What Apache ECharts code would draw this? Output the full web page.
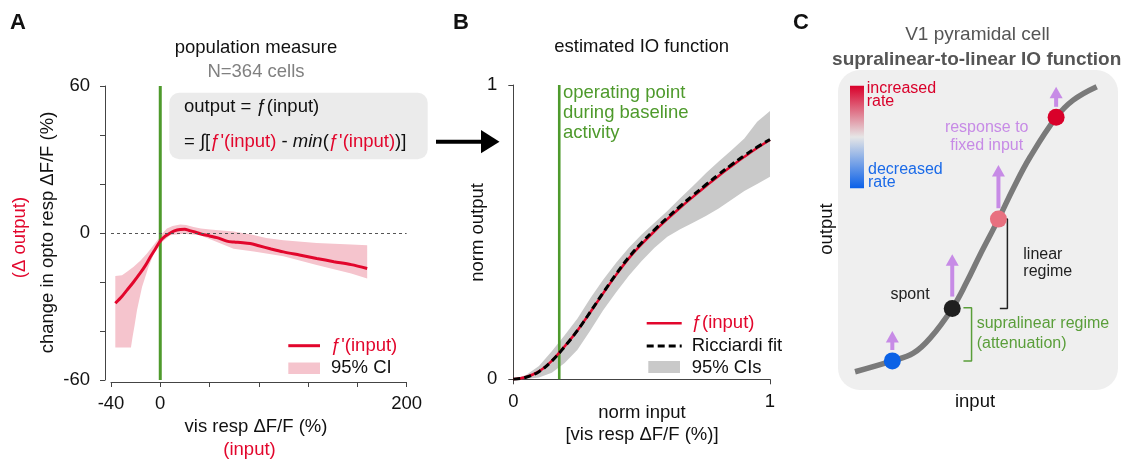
<!DOCTYPE html>
<html>
<head>
<meta charset="utf-8">
<script src="https://cdn.jsdelivr.net/npm/echarts@6/dist/echarts.min.js"></script>
<style>
html,body{margin:0;padding:0;background:#fff;}
#c{width:1122px;height:460px;}
</style>
</head>
<body>
<div id="c"></div>
<script>
// ---------- Panel A data ----------
const aTickLabelsX = [-40, 0, 200];
const aTickLabelsY = [-60, 0, 60];
const aLine = [[-36.5,-28.7],[-31,-25.8],[-27,-23.3],[-22,-20.2],[-16.2,-16.3],[-12,-13.2],[-8.1,-9.8],[-4,-6.5],[0,-3.3],[4,-1.3],[8.1,0],[12,1.0],[16.2,1.4],[20,1.5],[23,1.1],[28,0.4],[32.4,-0.3],[40,-1.2],[46,-1.9],[54,-3.3],[60,-3.7],[65,-3.9],[73,-4.3],[80,-5.2],[90,-6.5],[100,-7.7],[113,-9.0],[127,-10.4],[141,-11.7],[155,-12.9],[168,-14.5]];
const aUpper = [[-36.5,-17.6],[-31,-17.2],[-27,-15.8],[-21.6,-13.8],[-16,-11.2],[-10.8,-8.4],[-6,-5.3],[-1.4,-2.3],[2,0],[5.4,1.8],[10,2.9],[16.2,3.5],[21,3.3],[27,2.4],[33,1.8],[40.5,1.4],[50,1.0],[59.5,0.6],[73,-0.5],[86,-2.0],[100,-3.0],[127,-4.1],[155,-4.7],[168,-5.0]];
const aLower = [[-36.5,-46.7],[-23.8,-46.7],[-22.5,-42.4],[-20.8,-37.6],[-18.9,-31.5],[-14.8,-22],[-9.5,-13.8],[-4.1,-7],[1.4,-3.7],[8.1,-0.9],[18.9,-0.3],[32.4,-0.9],[46,-3.7],[59.5,-6.4],[76,-7.6],[100,-9.5],[127,-13.1],[155,-16.5],[168,-18.6]];
const aOperating = [[0,-60],[0,60]];

// ---------- Panel B data ----------
const bX   = [0,0.05,0.1,0.15,0.2,0.25,0.3,0.35,0.4,0.45,0.5,0.55,0.6,0.65,0.7,0.75,0.8,0.85,0.9,0.95,1.0];
const bF   = [0,0.008,0.027,0.063,0.112,0.166,0.228,0.292,0.354,0.411,0.459,0.503,0.544,0.583,0.620,0.656,0.691,0.724,0.756,0.786,0.813];
const bFit = [0,0.007,0.026,0.062,0.111,0.166,0.229,0.294,0.357,0.415,0.464,0.508,0.549,0.588,0.625,0.661,0.696,0.729,0.760,0.789,0.815];
const bUp  = [0,0.015,0.045,0.095,0.150,0.207,0.275,0.338,0.395,0.447,0.492,0.532,0.572,0.615,0.657,0.700,0.740,0.778,0.818,0.875,0.912];
const bLo  = [0,0.001,0.006,0.022,0.055,0.100,0.166,0.235,0.295,0.352,0.402,0.447,0.484,0.510,0.532,0.555,0.580,0.610,0.640,0.664,0.688];
const bOperating = 0.179;

// ---------- Panel C (schematic) data ----------
const cCurve = [[0.061,0.057],[0.194,0.091],[0.269,0.115],[0.329,0.162],[0.408,0.255],[0.460,0.338],[0.507,0.422],[0.573,0.534],[0.626,0.630],[0.686,0.728],[0.779,0.852],[0.840,0.906],[0.924,0.948]];
const cDots = [[0.194,0.091],[0.408,0.255],[0.573,0.534],[0.779,0.852]];
const cArrows = [[0.194,0.125,0.184],[0.408,0.292,0.424],[0.573,0.568,0.703],[0.779,0.885,0.948]];
const cBracketLinear = [[0.578,0.534],[0.605,0.534],[0.605,0.255],[0.578,0.255]];
const cBracketSupra = [[0.448,0.257],[0.477,0.257],[0.477,0.091],[0.448,0.091]];

// ---------- styles ----------
const FF = "'Liberation Sans', Arial, Helvetica, sans-serif";
const RED = '#e2062c', PINK = '#f5c4cd', GREEN = '#4e9a2c', GRAY_BAND = '#c9c9c9', AX = '#444', PURPLE = '#c78be6';
const dotColors = ['#0b62e6', '#1f1f1f', '#e8707f', '#d9002a'];

function txt(x, y, text, st, rot) {
  const s = Object.assign({text: text, fontSize: 18.5, fontFamily: FF, fill: '#111',
    textAlign: 'left', textVerticalAlign: 'middle'}, st || {});
  s.align = s.textAlign; s.verticalAlign = s.textVerticalAlign;
  return {type: 'text', x: x, y: y, rotation: rot || 0, silent: true, z: 50, style: s};
}
function ctr(o){ return Object.assign({textAlign:'center'}, o||{}); }

function bandSeries(idx, upper, lower, color, z) {
  return {
    type: 'custom', xAxisIndex: idx, yAxisIndex: idx, silent: true, z: z,
    data: [upper[0]],
    renderItem: function (params, api) {
      if (params.dataIndex !== 0) return null;
      const pts = upper.map(p => api.coord(p)).concat(lower.slice().reverse().map(p => api.coord(p)));
      return {type: 'polygon', shape: {points: pts}, style: {fill: color}};
    }
  };
}

const chart = echarts.init(document.getElementById('c'), null, {renderer: 'canvas'});

const axisCommon = {
  type: 'value',
  splitLine: {show: false},
  axisLine: {show: true, onZero: false, lineStyle: {color: AX, width: 1}},
  axisTick: {show: true, length: 5, lineStyle: {color: AX, width: 1}},
};
const RI = {fontSize: 18.5, fontFamily: FF};

const option = {
  animation: false,
  backgroundColor: '#fff',
  textStyle: {fontFamily: FF},
  grid: [
    {left: 111, top: 86, width: 295.6, height: 294},
    {left: 513.3, top: 85, width: 256.7, height: 294.3},
    {left: 838, top: 70, width: 280, height: 320}
  ],
  xAxis: [
    Object.assign({}, axisCommon, {gridIndex: 0, min: -40, max: 200, interval: 40, offset: 2,
      axisLabel: {margin: 12, fontSize: 18.5, color: '#111', fontFamily: FF, hideOverlap: false,
        formatter: v => aTickLabelsX.indexOf(v) >= 0 ? String(v) : ''}}),
    Object.assign({}, axisCommon, {gridIndex: 1, min: 0, max: 1, interval: 1,
      axisLabel: {margin: 13, fontSize: 18.5, color: '#111', fontFamily: FF}}),
    {gridIndex: 2, type: 'value', min: 0, max: 1, show: false}
  ],
  yAxis: [
    Object.assign({}, axisCommon, {gridIndex: 0, min: -60, max: 60, interval: 20, offset: 6,
      axisLabel: {margin: 15, fontSize: 18.5, color: '#111', fontFamily: FF, hideOverlap: false,
        formatter: v => aTickLabelsY.indexOf(v) >= 0 ? String(v) : ''}}),
    Object.assign({}, axisCommon, {gridIndex: 1, min: 0, max: 1, interval: 1,
      axisLabel: {margin: 16, fontSize: 18.5, color: '#111', fontFamily: FF}}),
    {gridIndex: 2, type: 'value', min: 0, max: 1, show: false}
  ],
  series: [
    // ----- A -----
    {type: 'line', xAxisIndex: 0, yAxisIndex: 0, data: [], silent: true, z: 1,
      markLine: {silent: true, symbol: ['none','none'], label: {show: false},
        lineStyle: {color: '#555', width: 1, type: [3, 3]}, data: [{yAxis: 0}]}},
    bandSeries(0, aUpper, aLower, PINK, 2),
    {type: 'line', xAxisIndex: 0, yAxisIndex: 0, data: aOperating, showSymbol: false, silent: true, z: 3,
      lineStyle: {color: GREEN, width: 3}},
    {type: 'line', xAxisIndex: 0, yAxisIndex: 0, data: aLine, showSymbol: false, silent: true, z: 4, smooth: 0.3,
      lineStyle: {color: RED, width: 3}},
    // ----- B -----
    bandSeries(1, bX.map((x,i)=>[x,bUp[i]]), bX.map((x,i)=>[x,bLo[i]]), GRAY_BAND, 2),
    {type: 'line', xAxisIndex: 1, yAxisIndex: 1, data: [[bOperating,0],[bOperating,1]], showSymbol: false, silent: true, z: 3,
      lineStyle: {color: GREEN, width: 2.6}},
    {type: 'line', xAxisIndex: 1, yAxisIndex: 1, data: bX.map((x,i)=>[x,bF[i]]), showSymbol: false, silent: true, z: 4, smooth: 0.4,
      lineStyle: {color: RED, width: 2.5}},
    {type: 'line', xAxisIndex: 1, yAxisIndex: 1, data: bX.map((x,i)=>[x,bFit[i]]), showSymbol: false, silent: true, z: 5, smooth: 0.4,
      lineStyle: {color: '#000', width: 3, type: [7, 4]}},
    // ----- C -----
    {type: 'line', xAxisIndex: 2, yAxisIndex: 2, data: cCurve, showSymbol: false, silent: true, z: 3, smooth: 0.4,
      lineStyle: {color: '#7a7a7a', width: 5.5}},
    {type: 'line', xAxisIndex: 2, yAxisIndex: 2, data: cBracketLinear, showSymbol: false, silent: true, z: 3,
      lineStyle: {color: '#222', width: 1.5}},
    {type: 'line', xAxisIndex: 2, yAxisIndex: 2, data: cBracketSupra, showSymbol: false, silent: true, z: 3,
      lineStyle: {color: '#5a9e3a', width: 1.5}},
    {type: 'custom', xAxisIndex: 2, yAxisIndex: 2, silent: true, z: 4, data: cArrows, encode: {x: 0, y: [1, 2]},
      renderItem: function (params, api) {
        const x = api.value(0), y0 = api.value(1), y1 = api.value(2);
        const p0 = api.coord([x, y0]), p1 = api.coord([x, y1]);
        const h = 11.5, w = 13;
        return {type: 'group', children: [
          {type: 'line', shape: {x1: p0[0], y1: p0[1], x2: p1[0], y2: p1[1] + h - 1}, style: {stroke: PURPLE, lineWidth: 4}},
          {type: 'polygon', shape: {points: [[p1[0]-w/2, p1[1]+h], [p1[0], p1[1]], [p1[0]+w/2, p1[1]+h]]}, style: {fill: PURPLE}}
        ]};
      }},
    {type: 'scatter', xAxisIndex: 2, yAxisIndex: 2, data: cDots, symbolSize: 17, silent: true, z: 5,
      itemStyle: {color: p => dotColors[p.dataIndex], opacity: 1}}
  ],
  graphic: [
    // panel letters
    txt(10, 23, 'A', {fontSize: 22, fontWeight: 'bold'}),
    txt(453, 23, 'B', {fontSize: 22, fontWeight: 'bold'}),
    txt(793, 23, 'C', {fontSize: 22, fontWeight: 'bold'}),
    // A titles
    txt(256, 48.3, 'population measure', ctr()),
    txt(256, 71.7, 'N=364 cells', ctr({fill: '#808080'})),
    {type: 'rect', shape: {x: 169.3, y: 92.7, width: 258.4, height: 66.6, r: 10}, style: {fill: '#ebebeb'}, z: 40, silent: true},
    txt(184, 106.7, '{k|output = ƒ(input)}', {rich: {k: Object.assign({fill: '#111'}, RI)}}),
    txt(184, 142.3, '{k|= ∫[}{r|ƒ\'(input)}{k| - }{i|min}{k|(}{r|ƒ\'(input)}{k|)]}',
      {rich: {k: Object.assign({fill: '#111'}, RI), r: Object.assign({fill: RED}, RI),
              i: Object.assign({fill: '#111', fontStyle: 'italic'}, RI)}}),
    // A axis names
    txt(48.3, 232.5, 'change in opto resp ΔF/F (%)', ctr(), Math.PI / 2),
    txt(20, 237.5, '(Δ output)', ctr({fill: RED}), Math.PI / 2),
    txt(256, 426.7, 'vis resp ΔF/F (%)', ctr()),
    txt(249.5, 449.5, '(input)', ctr({fill: RED})),
    // A legend
    {type: 'line', shape: {x1: 288.3, y1: 345.7, x2: 320, y2: 345.7}, style: {stroke: RED, lineWidth: 3}, z: 50, silent: true},
    txt(331, 345.7, 'ƒ\'(input)', {fill: RED}),
    {type: 'rect', shape: {x: 288.3, y: 362.5, width: 31.7, height: 11.5}, style: {fill: PINK}, z: 50, silent: true},
    txt(331, 368.3, '95% CI'),
    // arrow between A and B
    {type: 'line', shape: {x1: 436, y1: 141.7, x2: 483, y2: 141.7}, style: {stroke: '#000', lineWidth: 4}, z: 50, silent: true},
    {type: 'polygon', shape: {points: [[481, 130], [499.5, 141.7], [481, 153.3]]}, style: {fill: '#000'}, z: 50, silent: true},
    // B titles
    txt(641.7, 47, 'estimated IO function', ctr()),
    txt(563, 83, 'operating point\nduring baseline\nactivity', {fill: GREEN, lineHeight: 20, textVerticalAlign: 'top'}),
    txt(478, 232.5, 'norm output', ctr(), Math.PI / 2),
    txt(642, 413, 'norm input', ctr()),
    txt(642, 435, '[vis resp ΔF/F (%)]', ctr()),
    // B legend
    {type: 'line', shape: {x1: 646.7, y1: 323.3, x2: 681.7, y2: 323.3}, style: {stroke: RED, lineWidth: 2.5}, z: 50, silent: true},
    txt(691.7, 323.3, 'ƒ(input)', {fill: RED}),
    {type: 'line', shape: {x1: 646.7, y1: 346, x2: 681.7, y2: 346}, style: {stroke: '#000', lineWidth: 3, lineDash: [7, 4]}, z: 50, silent: true},
    txt(691.7, 346, 'Ricciardi fit'),
    {type: 'rect', shape: {x: 648.3, y: 361, width: 31.7, height: 12}, style: {fill: GRAY_BAND}, z: 50, silent: true},
    txt(691.7, 368.3, '95% CIs'),
    // C
    txt(977.5, 35, 'V1 pyramidal cell', ctr({fill: '#555', fontSize: 19})),
    txt(976.7, 60, 'supralinear-to-linear IO function', ctr({fill: '#555', fontSize: 19, fontWeight: 'bold'})),
    {type: 'rect', shape: {x: 838, y: 70, width: 280, height: 320, r: 22}, style: {fill: '#efefef'}, z: -10, silent: true},
    {type: 'rect', shape: {x: 850, y: 85.7, width: 14, height: 102.6},
      style: {fill: new echarts.graphic.LinearGradient(0, 0, 0, 1, [
        {offset: 0, color: '#d9002a'}, {offset: 0.5, color: '#e6e6e6'}, {offset: 1, color: '#0a60e8'}])}, z: 50, silent: true},
    txt(866.7, 95.3, 'increased\nrate', {fill: '#d9002a', fontSize: 16, lineHeight: 13}),
    txt(868, 175.7, 'decreased\nrate', {fill: '#1a6ae8', fontSize: 16, lineHeight: 13}),
    txt(986.7, 136.5, 'response to\nfixed input', ctr({fill: PURPLE, fontSize: 16, lineHeight: 18.5})),
    txt(1023.3, 263.3, 'linear\nregime', {fill: '#222', fontSize: 16, lineHeight: 17}),
    txt(910, 295, 'spont', ctr({fill: '#222', fontSize: 16})),
    txt(976.7, 333.7, 'supralinear regime\n(attenuation)', {fill: '#5a9e3a', fontSize: 16, lineHeight: 19.3}),
    txt(826.7, 229, 'output', ctr(), Math.PI / 2),
    txt(975, 401.7, 'input', ctr())
  ]
};
chart.setOption(option);
</script>
</body>
</html>
